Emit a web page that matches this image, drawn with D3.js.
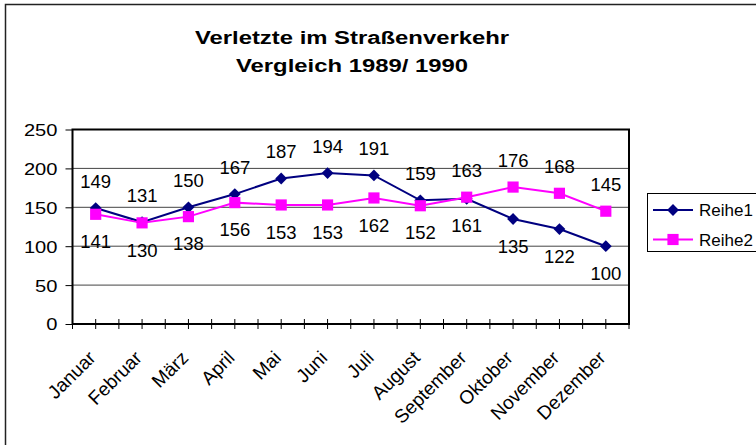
<!DOCTYPE html>
<html>
<head>
<meta charset="utf-8">
<script src="https://cdn.jsdelivr.net/npm/d3@7"></script>
<style>
	body { margin: 0; background: #fff; }
	svg { display: block; font-family: Arial, 'Liberation Sans', sans-serif; }
</style>
</head>
<body>
<div id="app"></div>
<script>
// chart data
const months = ['Januar', 'Februar', 'März', 'April', 'Mai', 'Juni', 'Juli', 'August', 'September', 'Oktober', 'November', 'Dezember']
const reihe1 = [149, 131, 150, 167, 187, 194, 191, 159, 161, 135, 122, 100]
const reihe2 = [141, 130, 138, 156, 153, 153, 162, 152, 163, 176, 168, 145]
const yTicks = [0, 50, 100, 150, 200, 250]
const seriesNames = ['Reihe1', 'Reihe2']
const titleLines = ['Verletzte im Straßenverkehr', 'Vergleich 1989/ 1990']

const width = 756
const height = 445

// plot area inside the chart
const plot = { left: 72.5, top: 129.5, right: 629, bottom: 324 }

const app = d3.select('#app')
const svg = app.append('svg').attr('width', width).attr('height', height)

// outer chart frame (runs off the right and bottom edge)
svg.append('rect')
	.attr('x', 5.5)
	.attr('y', 4.5)
	.attr('width', 900)
	.attr('height', 600)
	.attr('fill', '#fff')
	.attr('stroke', '#222')
	.attr('stroke-width', 1.5)

// title, a bit stretched sideways like the original
svg.selectAll('text.title')
	.data(titleLines)
	.enter()
	.append('text')
	.attr('class', 'title')
	.attr('transform', (d, i) => `translate(352, ${43.5 + i * 28.5}) scale(1.27, 1)`)
	.attr('text-anchor', 'middle')
	.style('font-size', '18.8px')
	.style('font-weight', 'bold')
	.text((d) => d)

// scales
const x = d3.scaleBand().domain(months).range([plot.left, plot.right])
const y = d3.scaleLinear().domain([0, 250]).range([plot.bottom, plot.top])
const cx = (d) => x(d) + x.bandwidth() / 2

// horizontal gridlines
svg.selectAll('line.grid')
	.data(yTicks.slice(1, -1))
	.enter()
	.append('line')
	.attr('class', 'grid')
	.attr('x1', plot.left)
	.attr('x2', plot.right)
	.attr('y1', (d) => y(d))
	.attr('y2', (d) => y(d))
	.style('stroke', '#444')
	.style('stroke-width', 1)

// y axis
const yAxis = d3.axisLeft(y).tickValues(yTicks).tickSize(7).tickPadding(0)
const gy = svg.append('g').attr('transform', `translate(${plot.left}, 0)`).call(yAxis)
gy.select('.domain').remove()
gy.selectAll('.tick line').style('stroke', '#000')
gy.selectAll('.tick text')
	.attr('x', null)
	.attr('dy', '0.36em')
	.attr('transform', 'translate(-15, 0) scale(1.22, 1)')
	.style('font-size', '16.5px')
	.style('fill', '#000')
	.style('font-family', 'Arial, "Liberation Sans", sans-serif')

// x axis ticks at every category edge and centre
const xTickPos = months.map((d) => x(d)).concat([plot.right]).concat(months.map(cx))
svg.selectAll('line.xtick')
	.data(xTickPos)
	.enter()
	.append('line')
	.attr('class', 'xtick')
	.attr('x1', (d) => d)
	.attr('x2', (d) => d)
	.attr('y1', plot.bottom - 5)
	.attr('y2', plot.bottom + 5)
	.style('stroke', '#000')
	.style('stroke-width', 1)

// month labels, rotated
svg.selectAll('text.month')
	.data(months)
	.enter()
	.append('text')
	.attr('class', 'month')
	.attr('transform', (d) => `translate(${cx(d) + 1}, 359) rotate(-45)`)
	.attr('text-anchor', 'end')
	.style('font-size', '19px')
	.text((d) => d)

// plot area frame
svg.append('rect')
	.attr('x', plot.left)
	.attr('y', plot.top)
	.attr('width', plot.right - plot.left)
	.attr('height', plot.bottom - plot.top)
	.attr('fill', 'none')
	.attr('stroke', '#000')
	.attr('stroke-width', 2)

const series = [
	{ name: seriesNames[0], values: reihe1, other: reihe2, color: '#000080', symbol: d3.symbolSquare, size: 70, rotate: 45 },
	{ name: seriesNames[1], values: reihe2, other: reihe1, color: '#ff00ff', symbol: d3.symbolSquare, size: 125, rotate: 0 },
]

const line = d3.line()
	.x((d, i) => cx(months[i]))
	.y((d) => y(d))

series.forEach((s) => {
	// the line
	svg.append('path')
		.datum(s.values)
		.attr('d', line)
		.attr('fill', 'none')
		.attr('stroke', s.color)
		.attr('stroke-width', 2)

	// markers
	svg.selectAll(null)
		.data(s.values)
		.enter()
		.append('path')
		.attr('d', d3.symbol(s.symbol, s.size))
		.attr('transform', (d, i) => `translate(${cx(months[i])}, ${y(d)}) rotate(${s.rotate})`)
		.attr('fill', s.color)
})

// value labels: the higher value of a month sits above, the lower one below
series.forEach((s) => {
	svg.selectAll(null)
		.data(s.values)
		.enter()
		.append('text')
		.attr('x', (d, i) => cx(months[i]))
		.attr('y', (d, i) => (d >= s.other[i] ? y(d) - 27 : y(d) + 27))
		.attr('dy', '0.36em')
		.attr('text-anchor', 'middle')
		.style('font-size', '18.5px')
		.text((d) => d)
})

// legend
const legend = svg.append('g').attr('transform', 'translate(647.5, 193.5)')
legend.append('rect')
	.attr('width', 200)
	.attr('height', 58)
	.attr('fill', '#fff')
	.attr('stroke', '#000')
	.attr('stroke-width', 1)

const items = legend.selectAll('g.item')
	.data(series)
	.enter()
	.append('g')
	.attr('class', 'item')
	.attr('transform', (d, i) => `translate(0, ${16.5 + i * 29.5})`)

items.append('line')
	.attr('x1', 5.5)
	.attr('x2', 45.5)
	.attr('stroke', (d) => d.color)
	.attr('stroke-width', 2)

items.append('path')
	.attr('d', (d) => d3.symbol(d.symbol, d.size)())
	.attr('transform', (d) => `translate(25.5, 0) rotate(${d.rotate})`)
	.attr('fill', (d) => d.color)

items.append('text')
	.attr('x', 51.5)
	.attr('dy', '0.36em')
	.style('font-size', '17px')
	.text((d) => d.name)
</script>
</body>
</html>
